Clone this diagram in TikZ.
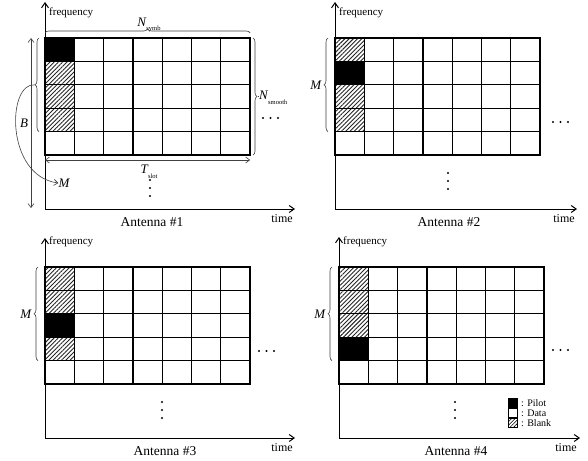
\documentclass[tikz,border=0pt]{standalone}
\usepackage{fontspec}
\setmainfont{Liberation Serif}
\usetikzlibrary{patterns.meta,decorations.pathreplacing,arrows.meta}
\tikzset{
  cell/.style={line width=1.3pt},
  axisline/.style={line width=1pt,-{Straight Barb[length=5pt,width=7pt]}},
  thinarrow/.style={line width=0.6pt,draw=black!75,{Straight Barb[length=4pt,width=6pt]}-{Straight Barb[length=4pt,width=6pt]}},
  curvearrow/.style={line width=0.6pt,draw=black!75,-{Straight Barb[length=4pt,width=6pt]}},
  bracestyle/.style={decorate,decoration={brace,amplitude=4pt},line width=0.6pt,draw=black!75},
  hatch/.style={pattern={Lines[angle=45,distance=3pt,line width=0.9pt]},pattern color=black!85},
  pilotcell/.style={cell,fill=black},
  blankcell/.style={cell,hatch},
  datacell/.style={cell,fill=white},
  freqlbl/.style={font=\fontsize{11}{11}\selectfont,inner sep=0pt,anchor=west},
  timelbl/.style={font=\fontsize{12}{12}\selectfont,inner sep=0pt},
  antlbl/.style={font=\fontsize{13.5}{13.5}\selectfont,inner sep=0pt},
  mathlbl/.style={font=\fontsize{13}{13}\selectfont\itshape,inner sep=0pt},
  legendlbl/.style={font=\fontsize{10}{10}\selectfont,inner sep=0pt,anchor=west},
  dotmark/.style={fill=black,draw=none}
}
\newcommand{\cw}{29.3}
\newcommand{\ch}{23.4}
% #1 x, #2 y, #3 pilot row, #4 number, #5 axis end, #6 axis top, #7 antenna label x, #8 time label x
\newcommand{\antpanel}[8]{%
\begin{scope}[shift={(#1,#2)}]
  \foreach \i in {0,...,6}{
    \foreach \j in {0,...,4}{
      \draw[datacell] (\i*\cw,\j*\ch) rectangle ++(\cw,\ch);
    }
  }
  \foreach \j in {1,...,4}{
    \ifnum\j=#3
      \draw[pilotcell] (0,\j*\ch-\ch) rectangle ++(\cw,\ch);
    \else
      \fill[white] (0,\j*\ch-\ch) rectangle ++(\cw,\ch);
      \draw[blankcell] (0,\j*\ch-\ch) rectangle ++(\cw,\ch);
    \fi
  }
  \coordinate (orig#4) at (0,171);
  \coordinate (ftop#4) at (0,#6);
  \coordinate (tend#4) at (#5,171);
  \draw[axisline] (orig#4) -- (ftop#4);
  \draw[axisline] (orig#4) -- (tend#4);
  \node[freqlbl] (freq#4) at (4,-25) {frequency};
  \node[timelbl] (time#4) at (#8,181) {time};
  \node[antlbl] (ant#4) at (#7,184) {Antenna \##4};
\end{scope}}
\begin{document}
\begin{tikzpicture}[x=1pt,y=-1pt]
\useasboundingbox (0,0) rectangle (588,460);
\fill[white] (0,0) rectangle (588,460);

% ---------- Panel 1 ----------
\antpanel{45}{38}{1}{1}{250}{-36}{107}{237}
\begin{scope}[shift={(45,38)}]
  \foreach \x in {218,225.5,233} \fill[dotmark] (\x,80) circle (1.1);
  \foreach \y in {142,150,158} \fill[dotmark] (105,\y) circle (1.1);
  % N_symb
  \coordinate (nsL) at (0,-5);
  \coordinate (nsR) at (205.1,-5);
  \draw[bracestyle] (nsL) -- (nsR);
  \node[mathlbl] (nsymb) at (104,-13) {N\kern0.3pt\raisebox{-0.35em}{\upshape\fontsize{6.5}{6.5}\selectfont symb}};
  % N_smooth
  \coordinate (nmT) at (208,0);
  \coordinate (nmB) at (208,117);
  \draw[bracestyle] (nmT) -- (nmB);
  \node[mathlbl,anchor=west] (nsmooth) at (214,60) {N\kern0.3pt\raisebox{-0.35em}{\upshape\fontsize{6.5}{6.5}\selectfont smooth}};
  \draw[line width=0.6pt,draw=black!75] (212.5,58.5) -- (214,58.5);
  % T_slot
  \coordinate (tsL) at (0,122);
  \coordinate (tsR) at (205.1,122);
  \draw[thinarrow] (tsL) -- (tsR);
  \node[mathlbl] (tslot) at (104,134) {T\kern0.3pt\raisebox{-0.35em}{\upshape\fontsize{6.5}{6.5}\selectfont slot}};
  % B
  \coordinate (bT) at (-14,0);
  \coordinate (bB) at (-14,170);
  \draw[thinarrow] (bT) -- (bB);
  \node[mathlbl] (blab) at (-21,85) {B};
  % brace and curve to M
  \coordinate (mbB) at (-6,93.6);
  \coordinate (mbT) at (-6,0);
  \draw[bracestyle] (mbB) -- (mbT);
  \coordinate (mtip) at (-10,46.8);
  \node[mathlbl] (m1) at (19,145) {M};
  \draw[curvearrow] (mtip) .. controls (-38,44) and (-40,138) .. (m1.west);
\end{scope}

% ---------- Panel 2 ----------
\antpanel{335}{38}{2}{2}{242}{-36}{114}{229}
\begin{scope}[shift={(335,38)}]
  \foreach \x in {218,225.5,233} \fill[dotmark] (\x,84) circle (1.1);
  \foreach \y in {135,143,151} \fill[dotmark] (113,\y) circle (1.1);
  \coordinate (m2B) at (-7,93.6);
  \coordinate (m2T) at (-7,0);
  \draw[bracestyle] (m2B) -- (m2T);
  \node[mathlbl,anchor=east] (m2) at (-13.5,47.5) {M};
\end{scope}

% ---------- Panel 3 ----------
\antpanel{45}{267}{3}{3}{250}{-29}{120}{237}
\begin{scope}[shift={(45,267)}]
  \foreach \x in {214,221.5,229} \fill[dotmark] (\x,84) circle (1.1);
  \foreach \y in {135,143,151} \fill[dotmark] (117,\y) circle (1.1);
  \coordinate (m3B) at (-7,93.6);
  \coordinate (m3T) at (-7,0);
  \draw[bracestyle] (m3B) -- (m3T);
  \node[mathlbl,anchor=east] (m3) at (-13.5,47.5) {M};
\end{scope}

% ---------- Panel 4 ----------
\antpanel{339}{267}{4}{4}{241}{-30}{117}{227}
\begin{scope}[shift={(339,267)}]
  \foreach \x in {214,221.5,229} \fill[dotmark] (\x,83) circle (1.1);
  \foreach \y in {135,143,151} \fill[dotmark] (116,\y) circle (1.1);
  \coordinate (m4B) at (-7,93.6);
  \coordinate (m4T) at (-7,0);
  \draw[bracestyle] (m4B) -- (m4T);
  \node[mathlbl,anchor=east] (m4) at (-13.5,47.5) {M};
  % legend
  \draw[line width=0.8pt,fill=black] (169,131.5) rectangle ++(9,9);
  \draw[line width=0.8pt,fill=white] (169,141.5) rectangle ++(9,9);
  \fill[white] (169,151.5) rectangle ++(9,9);
  \draw[line width=0.8pt,pattern={Lines[angle=45,distance=2.5pt,line width=0.6pt]}] (169,151.5) rectangle ++(9,9);
  \node[legendlbl] (lp) at (182,136) {: Pilot};
  \node[legendlbl] (ld) at (182,146) {: Data};
  \node[legendlbl] (lb) at (182,156) {: Blank};
\end{scope}
\end{tikzpicture}
\end{document}
